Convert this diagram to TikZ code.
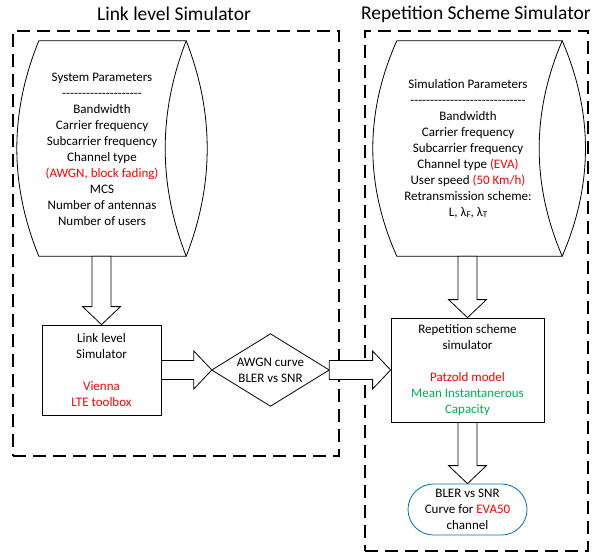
\documentclass[tikz,border=0pt]{standalone}
\usepackage{fontspec}
\setmainfont{Carlito}
\usetikzlibrary{calc}
\definecolor{myred}{RGB}{255,0,0}
\definecolor{mygreen}{RGB}{0,176,80}
\definecolor{myblue}{RGB}{0,112,192}
\newcommand\varrow[2]{\draw[barrow] let \p1=(#1), \p2=(#2) in
  (\x1-9.5pt,\y1) -- (\x1-9.5pt,\y2+18pt) -- (\x1-19pt,\y2+18pt) -- (\x1,\y2)
  -- (\x1+19pt,\y2+18pt) -- (\x1+9.5pt,\y2+18pt) -- (\x1+9.5pt,\y1) -- cycle;}
\newcommand\harrow[2]{\draw[barrow] let \p1=(#1), \p2=(#2) in
  (\x1,\y1+9.5pt) -- (\x2-18pt,\y1+9.5pt) -- (\x2-18pt,\y1+19pt) -- (\x2,\y1)
  -- (\x2-18pt,\y1-19pt) -- (\x2-18pt,\y1-9.5pt) -- (\x1,\y1-9.5pt) -- cycle;}
\newcommand\hyf{-{}}
\newcommand\hyten{\hyf\hyf\hyf\hyf\hyf\hyf\hyf\hyf\hyf\hyf}
\begin{document}
\begin{tikzpicture}[x=1pt,y=-1pt,
  txt/.style={font=\fontsize{13}{16}\selectfont, align=center, inner sep=0pt},
  title/.style={font=\fontsize{19.5}{23}\selectfont, inner sep=0pt},
  frame/.style={draw, line width=1.8pt, dash pattern=on 13pt off 7pt, inner sep=0pt},
  shell/.style={draw=none, inner sep=0pt},
  boxstyle/.style={draw, line width=0.8pt, inner sep=0pt},
  barrow/.style={draw, line width=0.8pt, fill=white},
  outline/.style={line width=0.8pt}]
\useasboundingbox (0,0) rectangle (597,555);
\fill[white] (0,0) rectangle (597,555);

% frames and titles
\node[frame, minimum width=326, minimum height=425] (frameL) at (176,243.5) {};
\node[frame, minimum width=223, minimum height=520] (frameR) at (476.5,291) {};
\node[title] (titleL) at (174,14) {Link level Simulator};
\node[title] (titleR) at (476,14) {Repetition Scheme Simulator};

% left cylinder
\node[shell, minimum width=147, minimum height=215] (cylL) at (112.5,148.5) {};
\draw[outline] (cylL.north west) -- (cylL.north east)
  .. controls +(-28,71.7) and +(-28,-71.7) .. (cylL.south east)
  -- (cylL.south west)
  .. controls +(-29.3,-71.7) and +(-29.3,71.7) .. (cylL.north west);
\draw[outline] (cylL.north east) .. controls +(28,71.7) and +(28,-71.7) .. (cylL.south east);
\node[txt] (cylLtext) at (102,149) {System Parameters\\
\hyten\hyten\\
Bandwidth\\
Carrier frequency\\
Subcarrier frequency\\
Channel type\\
\textcolor{myred}{(AWGN, block fading)}\\
MCS\\
Number of antennas\\
Number of users};

% right cylinder
\node[shell, minimum width=165, minimum height=215] (cylR) at (479.5,148.5) {};
\draw[outline] (cylR.north west) -- (cylR.north east)
  .. controls +(-30.7,71.7) and +(-30.7,-71.7) .. (cylR.south east)
  -- (cylR.south west)
  .. controls +(-32,-71.7) and +(-32,71.7) .. (cylR.north west);
\draw[outline] (cylR.north east) .. controls +(31,71.7) and +(31,-71.7) .. (cylR.south east);
\node[txt] (cylRtext) at (468,149) {Simulation Parameters\\
\hyten\hyten\hyf\hyf\hyf\hyf\hyf\hyf\hyf\hyf\hyf\\
Bandwidth\\
Carrier frequency\\
Subcarrier frequency\\
Channel type \textcolor{myred}{(EVA)}\\
User speed \textcolor{myred}{(50 Km/h)}\\
Retransmission scheme:\\
L, λ\raisebox{-0.2ex}{\fontsize{9}{9}\selectfont F}, λ\raisebox{-0.2ex}{\fontsize{9}{9}\selectfont T}};

% link level box
\node[boxstyle, txt, minimum width=119, minimum height=90] (link) at (101.5,370)
  {Link level\\Simulator\\[16pt]\textcolor{myred}{Vienna}\\\textcolor{myred}{LTE toolbox}};

% diamond
\node[shell, minimum width=117, minimum height=72] (diam) at (270.5,370) {};
\draw[outline] (diam.west) -- (diam.north) -- (diam.east) -- (diam.south) -- cycle;
\node[txt] (diamtext) at (270.5,370) {AWGN curve\\BLER vs SNR};

% repetition scheme box
\node[boxstyle, txt, minimum width=153, minimum height=104] (rep) at (467.5,370)
  {Repetition scheme\\simulator\\[16pt]\textcolor{myred}{Patzold model}\\
   \textcolor{mygreen}{Mean Instantanerous}\\\textcolor{mygreen}{Capacity}};

% terminal
\node[draw=myblue, line width=0.8pt, rounded corners=25.5pt, txt, minimum width=119, minimum height=51] (term) at (467.5,509.5)
  {BLER vs SNR\\Curve for \textcolor{myred}{EVA50}\\channel};

% block arrows
\varrow{link.north |- cylL.south}{link.north}
\varrow{rep.north |- cylR.south}{rep.north}
\varrow{rep.south}{term.north}
\harrow{link.east}{diam.west}
\harrow{diam.east}{rep.west}
\end{tikzpicture}
\end{document}
